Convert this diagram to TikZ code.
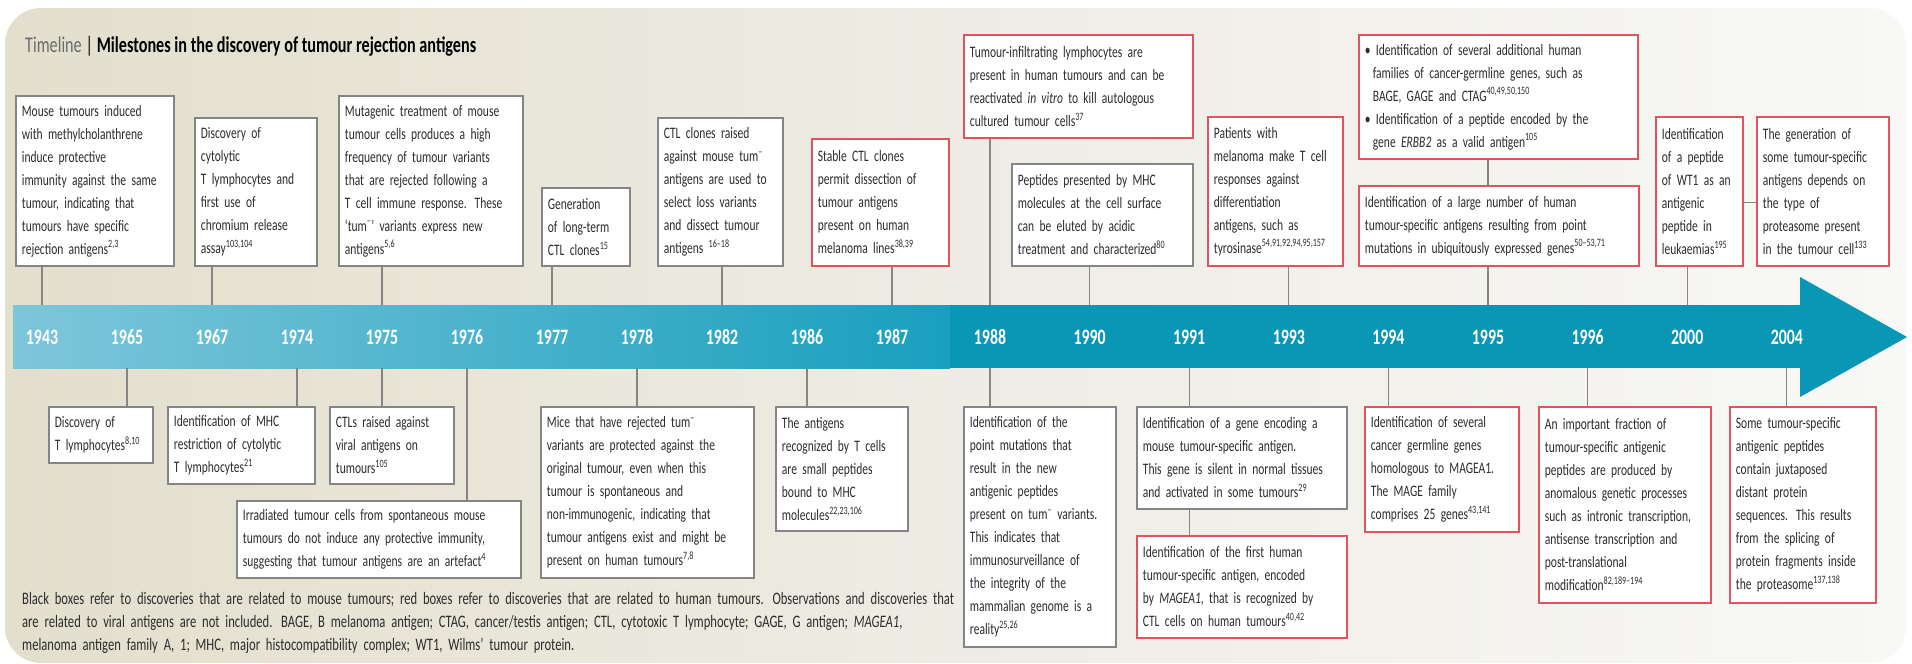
\documentclass[tikz,border=0pt]{standalone}
\usepackage{fontspec}
\setmainfont{Carlito}[FakeStretch=0.72]
\usetikzlibrary{positioning}
\definecolor{panelL}{HTML}{E3DFCD}
\definecolor{panelM}{HTML}{EEECE4}
\definecolor{panelR}{HTML}{F8F8F6}
\definecolor{barL}{HTML}{7EC6DA}
\definecolor{barM}{HTML}{18A0BE}
\definecolor{barR}{HTML}{0A97B5}
\definecolor{mouseline}{HTML}{858585}
\definecolor{humanline}{HTML}{E2535E}
\definecolor{txtgray}{HTML}{2C2C2C}
\definecolor{titlegray}{HTML}{6A6A6A}
\tikzset{
  box_m/.style = {draw=mouseline, line width=1.8pt, fill=white, anchor=north west,
    align=left, inner xsep=6pt, inner ysep=3pt, text=txtgray,
    font=\fontsize{16}{23}\selectfont},% boite souris
  box_h/.style = {box_m, draw=humanline},% boite humaine
  year/.style = {on grid, text=white, font=\fontsize{22}{24}\selectfont\bfseries},% annee
  link/.style = {draw=mouseline, line width=1.3pt}% trait
}
\begin{document}
\begin{tikzpicture}[x=1pt, y=-1pt]
        \useasboundingbox (0,0) rectangle (1912,664);
        \shade[left color=panelL, right color=panelR, middle color=panelM, rounded corners=36pt]
          (5,8) rectangle (1906,663);

        \node[anchor=west, inner sep=0pt, font=\fontsize{22.5}{24}\selectfont] (title) at (25,46)
          {\textcolor{titlegray}{Timeline}\,|\,\textbf{Milestones in the discovery of tumour rejection antigens}};

        % la fleche
        \shade[left color=barL, right color=barM] (13,305) rectangle (950,368);
        \fill[barR] (950,305) rectangle (1805,368);
        \fill[barR] (1800,277) -- (1907,337) -- (1800,397) -- cycle;
        \coordinate (bartop) at (0,305);
        \coordinate (barbot) at (0,368);

        \node[year] (y1943) at (42,337) {1943};
        \node[year, right=85pt of y1943] (y1965) {1965};
        \node[year, right=85pt of y1965] (y1967) {1967};
        \node[year, right=85pt of y1967] (y1974) {1974};
        \node[year, right=85pt of y1974] (y1975) {1975};
        \node[year, right=85pt of y1975] (y1976) {1976};
        \node[year, right=85pt of y1976] (y1977) {1977};
        \node[year, right=85pt of y1977] (y1978) {1978};
        \node[year, right=85pt of y1978] (y1982) {1982};
        \node[year, right=85pt of y1982] (y1986) {1986};
        \node[year, right=85pt of y1986] (y1987) {1987};
        \node[year, right=98pt of y1987] (y1988) {1988};
        \node[year, right=99.6pt of y1988] (y1990) {1990};
        \node[year, right=99.6pt of y1990] (y1991) {1991};
        \node[year, right=99.6pt of y1991] (y1993) {1993};
        \node[year, right=99.6pt of y1993] (y1994) {1994};
        \node[year, right=99.6pt of y1994] (y1995) {1995};
        \node[year, right=99.6pt of y1995] (y1996) {1996};
        \node[year, right=99.6pt of y1996] (y2000) {2000};
        \node[year, right=99.6pt of y2000] (y2004) {2004};

        % au-dessus
        \node[box_m, text width=146pt, minimum height=170pt] (m1943) at (15,95)
          {Mouse tumours induced\\ with methylcholanthrene\\ induce protective\\ immunity against the same\\ tumour, indicating that\\ tumours have specific\\ rejection antigens\textsuperscript{2,3}};
        \node[box_m, text width=110pt, minimum height=148pt] (m1967) at (194,117)
          {Discovery of\\ cytolytic\\ T lymphocytes and\\ first use of\\ chromium release\\ assay\textsuperscript{103,104}};
        \node[box_m, text width=172pt, minimum height=170pt] (m1975) at (338,95)
          {Mutagenic treatment of mouse\\ tumour cells produces a high\\ frequency of tumour variants\\ that are rejected following a\\ T cell immune response. These\\ ‘tum\textsuperscript{–}’ variants express new\\ antigens\textsuperscript{5,6}};
        \node[box_m, text width=76pt, minimum height=78pt] (m1977) at (541,187)
          {Generation\\ of long-term\\ CTL clones\textsuperscript{15}};
        \node[box_m, text width=113pt, minimum height=148pt] (m1982) at (657,117)
          {CTL clones raised\\ against mouse tum\textsuperscript{–}\\ antigens are used to\\ select loss variants\\ and dissect tumour\\ antigens \textsuperscript{16–18}};
        \node[box_h, text width=125pt, minimum height=127pt] (h1987) at (811,138)
          {Stable CTL clones\\ permit dissection of\\ tumour antigens\\ present on human\\ melanoma lines\textsuperscript{38,39}};
        \node[box_h, text width=217pt, minimum height=103pt] (h1988) at (963,34)
          {Tumour-infiltrating lymphocytes are\\ present in human tumours and can be\\ reactivated \textit{in vitro} to kill autologous\\ cultured tumour cells\textsuperscript{37}};
        \node[box_m, text width=169pt, minimum height=102pt] (m1990) at (1011,163)
          {Peptides presented by MHC\\ molecules at the cell surface\\ can be eluted by acidic\\ treatment and characterized\textsuperscript{80}};
        \node[box_h, text width=123pt, minimum height=149pt] (h1993) at (1207,116)
          {Patients with\\ melanoma make T cell\\ responses against\\ differentiation\\ antigens, such as\\ tyrosinase\textsuperscript{54,91,92,94,95,157}};
        \node[box_h, text width=267pt, minimum height=124pt] (h1995a) at (1358,34)
          {\textbullet\ Identification of several additional human\\ \hspace*{8pt}families of cancer-germline genes, such as\\ \hspace*{8pt}BAGE, GAGE and CTAG\textsuperscript{40,49,50,150}\\ \textbullet\ Identification of a peptide encoded by the\\ \hspace*{8pt}gene \textit{ERBB2} as a valid antigen\textsuperscript{105}};
        \node[box_h, text width=268pt, minimum height=80pt] (h1995b) at (1358,185)
          {Identification of a large number of human\\ tumour-specific antigens resulting from point\\ mutations in ubiquitously expressed genes\textsuperscript{50–53,71}};
        \node[box_h, text width=75pt, minimum height=149pt] (h2000) at (1655,116)
          {Identification\\ of a peptide\\ of WT1 as an\\ antigenic\\ peptide in\\ leukaemias\textsuperscript{195}};
        \node[box_h, text width=120pt, minimum height=149pt] (hprot) at (1756,116)
          {The generation of\\ some tumour-specific\\ antigens depends on\\ the type of\\ proteasome present\\ in the tumour cell\textsuperscript{133}};

        % en dessous
        \node[box_m, text width=92pt, minimum height=56pt] (m1965) at (48,406)
          {Discovery of\\ T lymphocytes\textsuperscript{8,10}};
        \node[box_m, text width=135pt, minimum height=77pt] (m1974) at (167,406)
          {Identification of MHC\\ restriction of cytolytic\\ T lymphocytes\textsuperscript{21}};
        \node[box_m, text width=112pt, minimum height=77pt] (m1975b) at (329,406)
          {CTLs raised against\\ viral antigens on\\ tumours\textsuperscript{105}};
        \node[box_m, text width=272pt, minimum height=77pt] (m1976) at (236,500)
          {Irradiated tumour cells from spontaneous mouse\\ tumours do not induce any protective immunity,\\ suggesting that tumour antigens are an artefact\textsuperscript{4}};
        \node[box_m, text width=201pt, minimum height=171pt] (m1978) at (540,406)
          {Mice that have rejected tum\textsuperscript{–}\\ variants are protected against the\\ original tumour, even when this\\ tumour is spontaneous and\\ non-immunogenic, indicating that\\ tumour antigens exist and might be\\ present on human tumours\textsuperscript{7,8}};
        \node[box_m, text width=120pt, minimum height=124pt] (m1986) at (775,406)
          {The antigens\\ recognized by T cells\\ are small peptides\\ bound to MHC\\ molecules\textsuperscript{22,23,106}};
        \node[box_m, text width=140pt, minimum height=240pt] (m1988) at (963,406)
          {Identification of the\\ point mutations that\\ result in the new\\ antigenic peptides\\ present on tum\textsuperscript{–} variants.\\ This indicates that\\ immunosurveillance of\\ the integrity of the\\ mammalian genome is a\\ reality\textsuperscript{25,26}};
        \node[box_m, text width=198pt, minimum height=102pt] (m1991) at (1136,406)
          {Identification of a gene encoding a\\ mouse tumour-specific antigen.\\ This gene is silent in normal tissues\\ and activated in some tumours\textsuperscript{29}};
        \node[box_h, text width=198pt, minimum height=102pt] (h1991) at (1136,535)
          {Identification of the first human\\ tumour-specific antigen, encoded\\ by \textit{MAGEA1}, that is recognized by\\ CTL cells on human tumours\textsuperscript{40,42}};
        \node[box_h, text width=142pt, minimum height=125pt] (h1994) at (1364,406)
          {Identification of several\\ cancer germline genes\\ homologous to MAGEA1.\\ The MAGE family\\ comprises 25 genes\textsuperscript{43,141}};
        \node[box_h, text width=160pt, minimum height=196pt] (h1996) at (1538,406)
          {An important fraction of\\ tumour-specific antigenic\\ peptides are produced by\\ anomalous genetic processes\\ such as intronic transcription,\\ antisense transcription and\\ post-translational\\ modification\textsuperscript{82,189–194}};
        \node[box_h, text width=134pt, minimum height=196pt] (h2004) at (1729,406)
          {Some tumour-specific\\ antigenic peptides\\ contain juxtaposed\\ distant protein\\ sequences. This results\\ from the splicing of\\ protein fragments inside\\ the proteasome\textsuperscript{137,138}};

        \draw[link] (y1943 |- m1943.south) -- (y1943 |- bartop);
        \draw[link] (y1967 |- m1967.south) -- (y1967 |- bartop);
        \draw[link] (y1975 |- m1975.south) -- (y1975 |- bartop);
        \draw[link] (y1977 |- m1977.south) -- (y1977 |- bartop);
        \draw[link] (y1982 |- m1982.south) -- (y1982 |- bartop);
        \draw[link] (y1987 |- h1987.south) -- (y1987 |- bartop);
        \draw[link] (y1988 |- h1988.south) -- (y1988 |- bartop);
        \draw[link] (y1990 |- m1990.south) -- (y1990 |- bartop);
        \draw[link] (y1993 |- h1993.south) -- (y1993 |- bartop);
        \draw[link] (y1995 |- h1995a.south) -- (y1995 |- h1995b.north);
        \draw[link] (y1995 |- h1995b.south) -- (y1995 |- bartop);
        \draw[link] (y2000 |- h2000.south) -- (y2000 |- bartop);
        \draw[link] ([yshift=-11pt]h2000.east) -- ([yshift=-11pt]hprot.west);

        \draw[link] (y1965 |- barbot) -- (y1965 |- m1965.north);
        \draw[link] (y1974 |- barbot) -- (y1974 |- m1974.north);
        \draw[link] (y1975 |- barbot) -- (y1975 |- m1975b.north);
        \draw[link] (y1976 |- barbot) -- (y1976 |- m1976.north);
        \draw[link] (y1978 |- barbot) -- (y1978 |- m1978.north);
        \draw[link] (y1986 |- barbot) -- (y1986 |- m1986.north);
        \draw[link] (y1988 |- barbot) -- (y1988 |- m1988.north);
        \draw[link] (y1991 |- barbot) -- (y1991 |- m1991.north);
        \draw[link] (y1991 |- m1991.south) -- (y1991 |- h1991.north);
        \draw[link] (y1994 |- barbot) -- (y1994 |- h1994.north);
        \draw[link] (y1996 |- barbot) -- (y1996 |- h1996.north);
        \draw[link] (y2004 |- barbot) -- (y2004 |- h2004.north);

        \node[anchor=north west, inner sep=0pt, align=left, text width=1000pt, text=txtgray,
          font=\fontsize{17.5}{23}\selectfont] (legend) at (22,592)
          {Black boxes refer to discoveries that are related to mouse tumours; red boxes refer to discoveries that are related to human tumours. Observations and discoveries that\\ are related to viral antigens are not included. BAGE, B melanoma antigen; CTAG, cancer/testis antigen; CTL, cytotoxic T lymphocyte; GAGE, G antigen; \textit{MAGEA1},\\ melanoma antigen family A, 1; MHC, major histocompatibility complex; WT1, Wilms’ tumour protein.};
\end{tikzpicture}
\end{document}
